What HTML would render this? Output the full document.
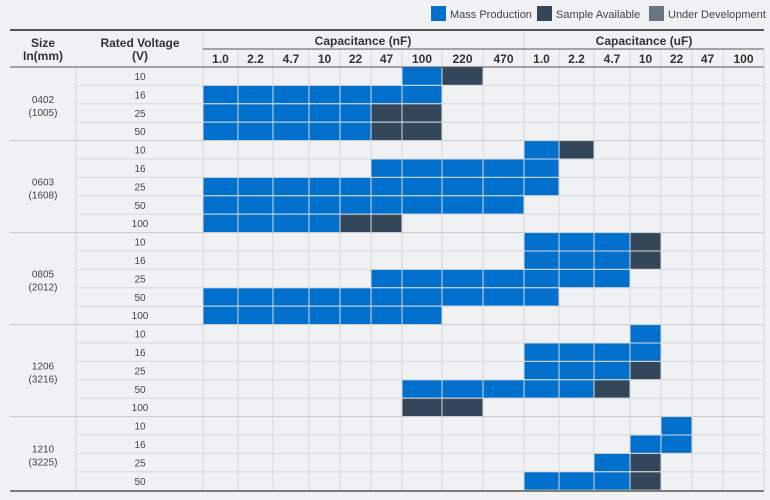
<!DOCTYPE html>
<html><head><meta charset="utf-8"><style>
html,body{margin:0;padding:0;background:#f0f1f3;}
svg{display:block;font-family:"Liberation Sans",Arial,sans-serif;}
</style></head><body>
<svg id="c" width="770" height="500"></svg>
<script>
const nfCaps=["1.0","2.2","4.7","10","22","47","100","220","470"];
const ufCaps=["1.0","2.2","4.7","10","22","47","100"];
const sizes=["0402","0603","0805","1206","1210"];
const sizesMm=["(1005)","(1608)","(2012)","(3216)","(3225)"];
const voltages=[["10","16","25","50"],["10","16","25","50","100"],["10","16","25","50","100"],["10","16","25","50","100"],["10","16","25","50"]];
// status per row: string over 16 columns; M=mass, S=sample, U=under dev, .=none
const status=[
["......MS........","MMMMMMM.........","MMMMMSS.........","MMMMMSS........."],
[".........MS.....",".....MMMMM......","MMMMMMMMMM......","MMMMMMMMM.......","MMMMSS.........."],
[".........MMMS...",".........MMMS...",".....MMMMMMM....","MMMMMMMMMM......","MMMMMMM........."],
["............M...",".........MMMM...",".........MMMS...","......MMMMMS....","......SS........"],
[".............M..","............MM..","...........MS...",".........MMMS..."]
];
const colEdges=[203,238,273,309,340,371,402,442,483,524,559,594,630,661,692,723,764];
const colors={M:"#0070cc",S:"#34465a",U:"#6b7580"};
const svg=document.getElementById('c');
const NS="http://www.w3.org/2000/svg";
function el(t,a,p){const e=document.createElementNS(NS,t);for(const k in a)e.setAttribute(k,a[k]);(p||svg).appendChild(e);return e;}
function txt(x,y,s,o){const e=el('text',Object.assign({x:x,y:y,'text-anchor':'middle','font-size':11,fill:'#333'},o||{}));e.textContent=s;return e;}
const top0=67,rowH=18.4;
const rowY=i=>top0+i*rowH;
// legend
const leg=[["Mass Production","#0070cc",431],["Sample Available","#34465a",537],["Under Development","#6b7580",649]];
leg.forEach(l=>{
 const g=el('g',{});
 
 
 el('rect',{x:l[2],y:6,width:15,height:15,fill:l[1]},g);
 const t=txt(l[2]+19,18,l[0],{'text-anchor':'start','font-size':11,fill:'#444'});g.appendChild(t);
});
// grid vertical
colEdges.forEach(x=>el('line',{x1:x,y1:49,x2:x,y2:491,stroke:'#d6d8db','stroke-width':1}));
el('line',{x1:76,y1:67,x2:76,y2:491,stroke:'#d6d8db'});
el('line',{x1:203,y1:30,x2:203,y2:491,stroke:'#d6d8db'});
el('line',{x1:524,y1:30,x2:524,y2:67,stroke:'#d6d8db'});
// header
el('line',{x1:10,y1:30,x2:764,y2:30,stroke:'#555','stroke-width':2});
el('line',{x1:203,y1:49,x2:764,y2:49,stroke:'#555','stroke-width':1});
el('line',{x1:10,y1:67,x2:764,y2:67,stroke:'#555','stroke-width':1});
txt(43,47,"Size",{'font-weight':'bold','font-size':12});
txt(43,60,"In(mm)",{'font-weight':'bold','font-size':12});
txt(140,47,"Rated Voltage",{'font-weight':'bold','font-size':12});
txt(140,60,"(V)",{'font-weight':'bold','font-size':12});
txt(363,45,"Capacitance (nF)",{'font-weight':'bold','font-size':12});
txt(644,45,"Capacitance (uF)",{'font-weight':'bold','font-size':12});
nfCaps.concat(ufCaps).forEach((c,i)=>{const t=txt((colEdges[i]+colEdges[i+1])/2,63,c,{'font-weight':'bold','font-size':12});
 });
// rows
let r=0;
sizes.forEach((s,gi)=>{
 const start=r;
 voltages[gi].forEach((v,vi)=>{
  const y=rowY(r);
  txt(140,y+13,v,{'font-size':10,fill:'#444'});
  const row=status[gi][vi];
  for(let c=0;c<16;c++){
   const ch=row[c];
   if(colors[ch]){
    const rc=el('rect',{x:colEdges[c]+0.5,y:y+0.5,width:colEdges[c+1]-colEdges[c]-1,height:rowH-1,fill:colors[ch]});
    
    
   }
  }
  r++;
  if(vi<voltages[gi].length-1) el('line',{x1:76,y1:rowY(r),x2:764,y2:rowY(r),stroke:'#d6d8db'});
 });
 const midY=(rowY(start)+rowY(r))/2;
 txt(43,midY-1,s,{'font-size':10,fill:'#444'});
 txt(43,midY+12,sizesMm[gi],{'font-size':10,fill:'#444'});
 if(gi<sizes.length-1) el('line',{x1:10,y1:rowY(r),x2:764,y2:rowY(r),stroke:'#c8cacd'});
});
el('line',{x1:10,y1:491,x2:764,y2:491,stroke:'#555','stroke-width':1.5});
</script>
</body></html>
